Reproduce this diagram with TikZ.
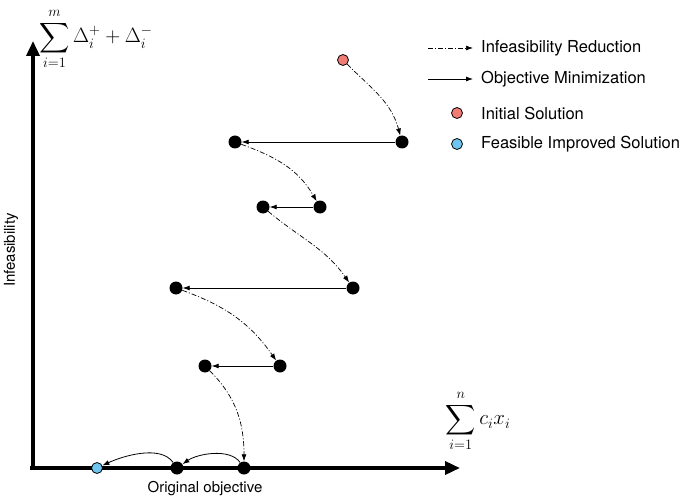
\documentclass[tikz,border=0pt]{standalone}
\usepackage{amsmath,amssymb}
\usepackage{fontspec}
\setmainfont{TeX Gyre Heros}
\usetikzlibrary{arrows.meta,positioning}
\definecolor{initred}{RGB}{240,124,118}
\definecolor{feasblue}{RGB}{110,198,240}
\tikzset{
  pt/.style   ={circle,fill=black,inner sep=0pt,minimum size=13pt},
  ptc/.style  ={circle,draw=black,line width=0.8pt,inner sep=0pt,minimum size=11pt},
  axis/.style ={line width=3.5pt,-{Triangle[length=15pt,width=13pt]}},
  red/.style  ={line width=0.7pt,dash pattern=on 5pt off 2pt on 1pt off 2pt,
                 -{Latex[length=7pt,width=5pt]}},
  obj/.style  ={line width=0.8pt,-{Latex[length=7pt,width=5pt]}},
  lbl/.style  ={font=\fontsize{16.5}{19}\selectfont,inner sep=1pt},
  axlbl/.style={font=\fontsize{15}{18}\selectfont,inner sep=1pt},
  sumlbl/.style={font=\fontsize{21}{24}\selectfont,inner sep=0pt},
}
\begin{document}
\begin{tikzpicture}[x=1pt,y=1pt]
  \useasboundingbox (0,0) rectangle (699,499);
  % axes
  \draw[axis] (33,29) -- (33,458);
  \draw[axis] (30,31) -- (460,31);
  \node[sumlbl] (ylab) at (96,460)
       {$\displaystyle\sum_{i=1}^{m}\Delta_i^{+}+\Delta_i^{-}$};
  \node[sumlbl] (xlab) at (478,78)
       {$\displaystyle\sum_{i=1}^{n}c_ix_i$};
  \node[axlbl,rotate=90] (ytxt) at (11,249) {Infeasibility};
  \node[axlbl] (xtxt) at (205,10) {Original objective};
  % solutions
  \node[ptc,fill=initred] (init) at (343,439) {};
  \node[pt] (a1) at (402,357) {};
  \node[pt] (b1) at (235,357) {};
  \node[pt] (a2) at (320,292) {};
  \node[pt] (b2) at (263,292) {};
  \node[pt] (a3) at (353,211) {};
  \node[pt] (b3) at (176,211) {};
  \node[pt] (a4) at (280,133) {};
  \node[pt] (b4) at (205,133) {};
  \node[pt] (c1) at (244,31) {};
  \node[pt] (c2) at (177,31) {};
  \node[ptc,fill=feasblue] (feas) at (97,31) {};
  % infeasibility reduction
  \draw[red] (init) to[out=-45,in=105] (a1);
  \draw[red] (b1) to[out=-20,in=120] (a2);
  \draw[red] (b2) to[out=-40,in=125] (a3);
  \draw[red] (b3) to[out=-20,in=125] (a4);
  \draw[red] (b4) to[out=-45,in=90] (c1);
  % objective minimization
  \draw[obj] (a1) -- (b1);
  \draw[obj] (a2) -- (b2);
  \draw[obj] (a3) -- (b3);
  \draw[obj] (a4) -- (b4);
  \draw[obj] (c1) to[out=125,in=35,looseness=0.8] (c2);
  \draw[obj] (c2) to[out=125,in=25,looseness=0.8] (feas);
  % legend
  \coordinate (l1) at (428,451);
  \coordinate (l1e) at (473,451);
  \coordinate (l2) at (428,420);
  \coordinate (l2e) at (473,420);
  \draw[red] (l1) -- (l1e);
  \draw[obj] (l2) -- (l2e);
  \node[ptc,fill=initred] (linit) at (457,386) {};
  \node[ptc,fill=feasblue] (lfeas) at (457,355) {};
  \node[lbl,anchor=west] (t1) at (480,451) {Infeasibility Reduction};
  \node[lbl,anchor=west] (t2) at (480,420) {Objective Minimization};
  \node[lbl,anchor=west] (t3) at (480,386) {Initial Solution};
  \node[lbl,anchor=west] (t4) at (480,355) {Feasible Improved Solution};
\end{tikzpicture}
\end{document}
